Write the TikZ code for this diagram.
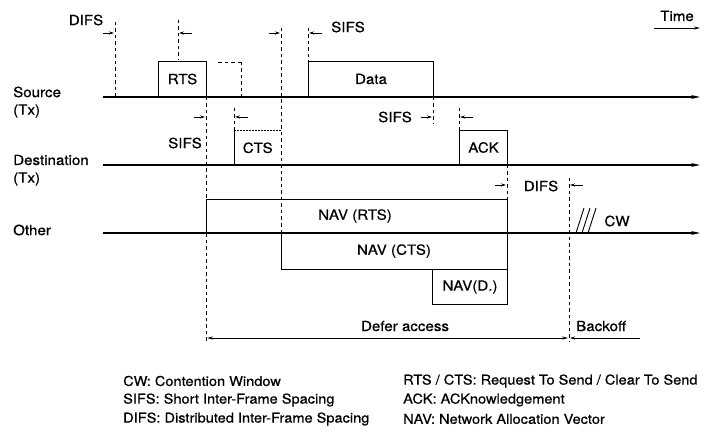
\documentclass[tikz,border=0pt]{standalone}
\usepackage{fontspec}
\setmainfont{TeX Gyre Heros}[FakeStretch=1.08, FakeBold=0.6]
\usetikzlibrary{arrows.meta}
\begin{document}
\begin{tikzpicture}[x=1pt,y=-1pt,
  every node/.style={font=\fontsize{14}{16}\selectfont, inner sep=0pt},
  timeline/.style={line width=1.3pt, -{Stealth[length=9pt,width=4pt]}},
  frame/.style={draw, line width=1pt, anchor=south west},
  guide/.style={line width=0.8pt, dash pattern=on 3.5pt off 3pt},
  tick/.style={line width=0.8pt, -{Stealth[length=5pt,width=3pt]}},
  lbl/.style={anchor=west},
  legend/.style={anchor=west, font=\fontsize{13.5}{16}\selectfont}]
\useasboundingbox (0,0) rectangle (719,438);

% time indicator
\node (time) at (677,16) {Time};
\coordinate (t0) at (654,28); \coordinate (t1) at (700,28);
\draw[line width=0.8pt, -{Stealth[length=6pt,width=3pt]}] (t0) -- (t1);

% station labels
\node[lbl] (src) at (13,92) {Source};
\node[lbl] (srctx) at (13,111) {(Tx)};
\node[lbl] (dst) at (13,160) {Destination};
\node[lbl] (dsttx) at (13,179) {(Tx)};
\node[lbl] (oth) at (13,230) {Other};

% timelines
\coordinate (s0) at (103,97);  \coordinate (s1) at (700,97);
\coordinate (d0) at (103,165); \coordinate (d1) at (700,165);
\coordinate (o0) at (103,233); \coordinate (o1) at (700,233);
\draw[timeline] (s0) -- (s1);
\draw[timeline] (d0) -- (d1);
\draw[timeline] (o0) -- (o1);

% frames
\node[frame, minimum width=48pt, minimum height=35pt] (rts) at (158,97) {RTS};
\node[frame, minimum width=125pt, minimum height=35pt] (data) at (308,97) {Data};
\node[frame, minimum width=48pt, minimum height=34pt] (ack) at (459,165) {ACK};
\node[frame, minimum width=301pt, minimum height=33pt] (navrts) at (206,233) {};
\node at (355,216) (navrtst) {NAV (RTS)};
\node[frame, minimum width=226pt, minimum height=36pt, anchor=north west] (navcts) at (281,233) {};
\node at (394,251) (navctst) {NAV (CTS)};
\node[frame, minimum width=75pt, minimum height=35pt, anchor=north west] (navd) at (432,269) {NAV(D.)};

% CTS frame (partly dotted)
\node[anchor=south west, minimum width=47pt, minimum height=34pt] (cts) at (234,165) {CTS};
\draw[line width=1pt] (cts.south west) -- (cts.north west);
\draw[line width=0.8pt, dash pattern=on 2pt off 1pt] (cts.north west) -- (cts.north east);

% ghost marks near RTS
\coordinate (g0) at (218,62); \coordinate (g1) at (241,62); \coordinate (g2) at (241,97);
\draw[guide, line width=0.5pt] (g0) -- (g1);
\draw[guide, line width=0.5pt] (g1) -- (g2);

% guide lines
\coordinate (a1) at (115,22);  \coordinate (b1) at (115,97);
\coordinate (a2) at (178,20);  \coordinate (b2) at (178,60);
\coordinate (a4) at (281,28);  \coordinate (b4) at (281,233);
\coordinate (a5) at (308,28);  \coordinate (b5) at (308,62);
\coordinate (a6) at (206,97);  \coordinate (b6) at (206,200);
\coordinate (c6) at (206,233); \coordinate (e6) at (206,342);
\coordinate (a7) at (234,108); \coordinate (b7) at (234,131);
\coordinate (a8) at (433,97);  \coordinate (b8) at (433,124);
\coordinate (a9) at (459,108); \coordinate (b9) at (459,131);
\coordinate (a10) at (507,165); \coordinate (b10) at (507,200);
\coordinate (a11) at (569,178); \coordinate (b11) at (569,342);
\draw[guide] (a1) -- (b1);
\draw[guide, line width=0.5pt] (a2) -- (b2);
\draw[guide] (a4) -- (b4);
\draw[guide] (a5) -- (b5);
\draw[guide] (a6) -- (b6);
\draw[guide] (c6) -- (e6);
\draw[guide] (a7) -- (b7);
\draw[guide] (a8) -- (b8);
\draw[guide] (a9) -- (b9);
\draw[guide] (a10) -- (b10);
\draw[guide] (a11) -- (b11);

% interval markers
\foreach \x/\y/\n in {115/33/m1, 281/33/m2, 206/117/m3, 433/117/m4, 507/185/m5}{
  \coordinate (\n a) at (\x-12,\y); \coordinate (\n b) at (\x-1,\y);
  \draw[tick] (\n a) -- (\n b);
}
\foreach \x/\y/\n in {178/33/k1, 308/33/k2, 234/117/k3, 459/117/k4, 569/185/k5}{
  \coordinate (\n a) at (\x+14,\y); \coordinate (\n b) at (\x+1,\y);
  \draw[tick] (\n a) -- (\n b);
}

% interval labels
\node (difs1) at (86,20) {DIFS};
\node (sifs1) at (348,27) {SIFS};
\node (sifs2) at (185,143) {SIFS};
\node (sifs3) at (395,117) {SIFS};
\node (difs2) at (541,186) {DIFS};

% contention window
\foreach \i in {0,1,2}{
  \coordinate (h\i a) at (576+6*\i,233); \coordinate (h\i b) at (584+6*\i,208);
  \draw[line width=0.9pt] (h\i a) -- (h\i b);
}
\node (cw) at (617,221) {CW};

% defer / backoff
\coordinate (df0) at (207,338); \coordinate (df1) at (568,338);
\draw[line width=0.8pt, {Stealth[length=6pt,width=3pt]}-{Stealth[length=6pt,width=3pt]}] (df0) -- (df1);
\node (defer) at (405,326) {Defer access};
\coordinate (bk0) at (640,338); \coordinate (bk1) at (570,338);
\draw[tick] (bk0) -- (bk1);
\node[lbl] (backoff) at (576,326) {Backoff};

% legend
\node[legend] (l1) at (123,381) {CW: Contention Window};
\node[legend] (l2) at (123,400) {SIFS: Short Inter-Frame Spacing};
\node[legend] (l3) at (123,419) {DIFS: Distributed Inter-Frame Spacing};
\node[legend] (r1) at (403,381) {RTS / CTS: Request To Send / Clear To Send};
\node[legend] (r2) at (403,400) {ACK: ACKnowledgement};
\node[legend] (r3) at (403,419) {NAV: Network Allocation Vector};
\end{tikzpicture}
\end{document}
